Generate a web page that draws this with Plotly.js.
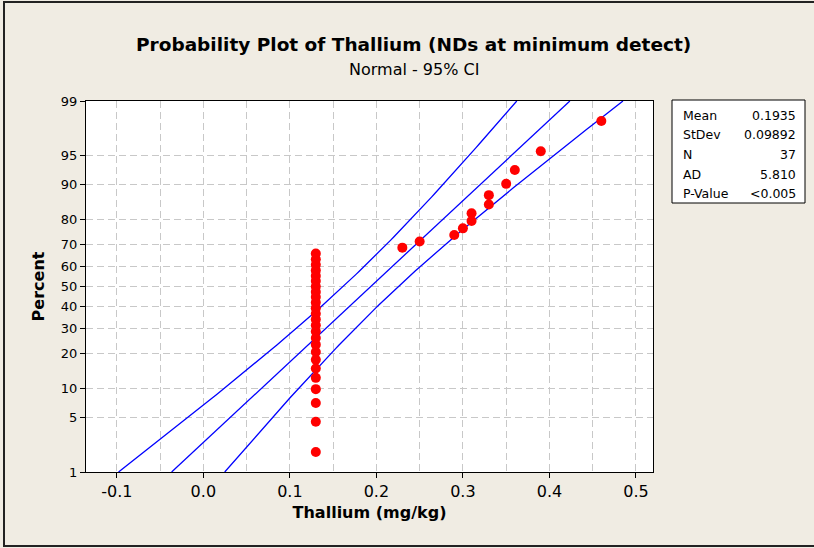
<!DOCTYPE html>
<html><head><meta charset="utf-8">
<script src="https://cdn.plot.ly/plotly-3.0.1.min.js"></script>
<style>
html,body{margin:0;padding:0;background:rgb(240,236,227);}
#chart{width:814px;height:548px;}
</style>
</head><body><div id="chart"></div>
<script>
// ---- data ----
const thallium = [0.13,0.13,0.13,0.13,0.13,0.13,0.13,0.13,0.13,0.13,0.13,0.13,0.13,0.13,0.13,0.13,0.13,0.13,0.13,0.13,0.13,0.13,0.13,0.13,0.13,
                  0.23,0.25,0.29,0.30,0.31,0.31,0.33,0.33,0.35,0.36,0.39,0.46];
const percent = [1.9,4.5,7.2,9.9,12.6,15.2,17.9,20.6,23.3,25.9,28.6,31.3,34.0,36.6,39.3,42.0,44.7,47.3,50.0,52.7,55.3,58.0,60.7,63.4,66.0,
                 68.7,71.4,74.1,76.7,79.4,82.1,84.8,87.4,90.1,92.8,95.5,98.1];
const yTickPercents = [1,5,10,20,30,40,50,60,70,80,90,95,99];
const xTickVals = [-0.1,0.0,0.1,0.2,0.3,0.4,0.5];
const xTickText = ['-0.1','0.0','0.1','0.2','0.3','0.4','0.5'];
const statLabels = ['Mean','StDev','N','AD','P-Value'];
const statValues = ['0.1935','0.09892','37','5.810','<0.005'];
const fitMean = 0.1935, fitStDev = 0.09892, fitN = 37;

// ---- probability (normal quantile) scale ----
function normInv(p){
  const a=[-3.969683028665376e+01,2.209460984245205e+02,-2.759285104469687e+02,1.383577518672690e+02,-3.066479806614716e+01,2.506628277459239e+00];
  const b=[-5.447609879822406e+01,1.615858368580409e+02,-1.556989798598866e+02,6.680131188771972e+01,-1.328068155833416e+01];
  const c=[-7.784894002430293e-03,-3.223964580411365e-01,-2.400758277161838e+00,-2.549732539343734e+00,4.374664141464968e+00,2.938163982698783e+00];
  const d=[7.784695709041462e-03,3.224671290700398e-01,2.445134137142996e+00,3.754408661907416e+00];
  const pl=0.02425, ph=1-pl; let q,r;
  if(p<pl){q=Math.sqrt(-2*Math.log(p));return (((((c[0]*q+c[1])*q+c[2])*q+c[3])*q+c[4])*q+c[5])/((((d[0]*q+d[1])*q+d[2])*q+d[3])*q+1);}
  if(p<=ph){q=p-0.5;r=q*q;return (((((a[0]*r+a[1])*r+a[2])*r+a[3])*r+a[4])*r+a[5])*q/(((((b[0]*r+b[1])*r+b[2])*r+b[3])*r+b[4])*r+1);}
  q=Math.sqrt(-2*Math.log(1-p));return -(((((c[0]*q+c[1])*q+c[2])*q+c[3])*q+c[4])*q+c[5])/((((d[0]*q+d[1])*q+d[2])*q+d[3])*q+1);
}
const zOf = pc => normInv(pc/100);
const zLo = zOf(1), zHi = zOf(99);

// fitted normal line and 95% CI for percentiles
const zs=[], fit=[], lo=[], hi=[];
for(let i=0;i<=120;i++){
  const z = zLo + (zHi-zLo)*i/120;
  const xp = fitMean + z*fitStDev;
  const se = fitStDev*Math.sqrt((1 + z*z/2)/fitN);
  zs.push(z); fit.push(xp); lo.push(xp-1.96*se); hi.push(xp+1.96*se);
}

// geometry helpers (plot area in pixels)
const L=86, R=653, T=101, B=472, W=814, H=548;
const px = v => (v-L)/(R-L);
const py = v => (B-v)/(B-T);

const font = 'DejaVu Sans, Verdana, sans-serif';
const lineStyle = {color:'#0000ff', width:1.3};
const traces = [
  {x:lo, y:zs, mode:'lines', line:lineStyle, hoverinfo:'skip', showlegend:false},
  {x:fit, y:zs, mode:'lines', line:lineStyle, hoverinfo:'skip', showlegend:false},
  {x:hi, y:zs, mode:'lines', line:lineStyle, hoverinfo:'skip', showlegend:false},
  {x:thallium, y:percent.map(zOf), mode:'markers', marker:{color:'#ff0000', size:10}, showlegend:false, cliponaxis:false}
];

const annotations = [
  {text:'<b>Probability Plot of Thallium (NDs at minimum detect)</b>', xref:'paper', yref:'paper', x:px(413), y:py(44),
   showarrow:false, xanchor:'center', yanchor:'middle', font:{family:font, size:18.5, color:'#000'}},
  {text:'Normal - 95% CI', xref:'paper', yref:'paper', x:px(414), y:py(69),
   showarrow:false, xanchor:'center', yanchor:'middle', font:{family:font, size:16, color:'#000'}}
];
statLabels.forEach((s,i)=>{
  const yy = py(115 + i*19.7);
  annotations.push({text:s, xref:'paper', yref:'paper', x:px(681), y:yy, xanchor:'left', yanchor:'middle', showarrow:false, font:{family:font,size:12.5,color:'#000'}});
  annotations.push({text:statValues[i], xref:'paper', yref:'paper', x:px(798), y:yy, xanchor:'right', yanchor:'middle', showarrow:false, font:{family:font,size:12.5,color:'#000'}});
});

const shapes = [
  {type:'rect', xref:'paper', yref:'paper', x0:px(672), x1:px(805), y0:py(203), y1:py(100), line:{color:'#000', width:1}, fillcolor:'#fff', layer:'below'},
  {type:'rect', xref:'paper', yref:'paper', x0:px(4), x1:px(820), y0:py(546), y1:py(2), line:{color:'#222', width:2}, fillcolor:'rgba(0,0,0,0)'}
];

const gridCol = '#c8c8c8';
const layout = {
  width:W, height:H,
  margin:{l:L, r:W-R, t:T, b:H-B, pad:0},
  paper_bgcolor:'rgb(240,236,227)', plot_bgcolor:'#ffffff',
  showlegend:false,
  xaxis:{
    range:[-0.1356, 0.5197], tickmode:'array', tickvals:xTickVals, ticktext:xTickText,
    ticks:'outside', ticklen:5, tickcolor:'#000', tickfont:{family:font, size:16, color:'#000'},
    showline:true, mirror:true, linecolor:'#000', linewidth:1, zeroline:false,
    showgrid:true, gridcolor:gridCol, gridwidth:1, griddash:'7px,4px',
    minor:{tickmode:'linear', tick0:0, dtick:0.05, showgrid:true, gridcolor:gridCol, gridwidth:1, griddash:'7px,4px', ticks:''},
    title:{text:'<b>Thallium (mg/kg)</b>', font:{family:font, size:16, color:'#000'}, standoff:6}
  },
  yaxis:{
    range:[zLo, zHi], tickmode:'array', tickvals:yTickPercents.map(zOf), ticktext:yTickPercents.map(String),
    ticks:'outside', ticklen:5, tickcolor:'#000', tickfont:{family:font, size:13, color:'#000'},
    showline:true, mirror:true, linecolor:'#000', linewidth:1, zeroline:false,
    showgrid:true, gridcolor:gridCol, gridwidth:1, griddash:'7px,4px',
    title:{text:'<b>Percent</b>', font:{family:font, size:16, color:'#000'}, standoff:12}
  },
  annotations:annotations, shapes:shapes
};

Plotly.newPlot('chart', traces, layout, {displayModeBar:false, staticPlot:true});
</script>
</body></html>
